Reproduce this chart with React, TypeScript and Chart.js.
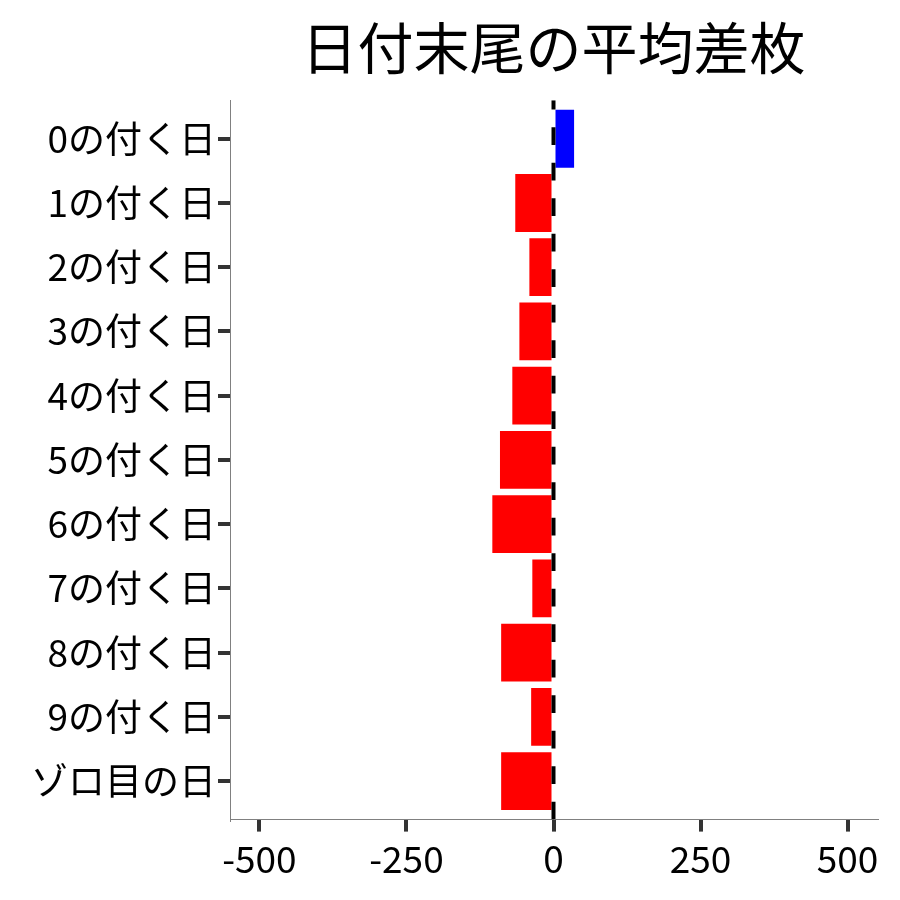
import { useEffect, useRef } from 'react'
import { Chart, registerables } from 'chart.js'

Chart.register(...registerables)

const TITLE = '日付末尾の平均差枚'
const LABELS = [
  '0の付く日', '1の付く日', '2の付く日', '3の付く日', '4の付く日', '5の付く日',
  '6の付く日', '7の付く日', '8の付く日', '9の付く日', 'ゾロ目の日',
]
const VALUES = [35, -65, -41, -58, -70, -91, -104, -36, -89, -38, -89]
const X_TICKS = [-500, -250, 0, 250, 500]

const FONT = '"Noto Sans CJK JP", "Noto Sans", sans-serif'

// dashed reference line at x = 0, drawn bottom-up like ggplot's geom_vline
const zeroLine = {
  id: 'zeroLine',
  afterDatasetsDraw(chart: any) {
    const { ctx, chartArea, scales } = chart
    const x = scales.x.getPixelForValue(0)
    ctx.save()
    ctx.beginPath()
    ctx.rect(chartArea.left, chartArea.top, chartArea.right - chartArea.left, chartArea.bottom - chartArea.top)
    ctx.clip()
    ctx.strokeStyle = '#000'
    ctx.lineWidth = 4
    ctx.setLineDash([17.75, 17.75])
    ctx.beginPath()
    ctx.moveTo(x, chartArea.bottom)
    ctx.lineTo(x, chartArea.top)
    ctx.stroke()
    ctx.restore()
  },
}

export default function App() {
  const canvasRef = useRef<HTMLCanvasElement>(null)

  useEffect(() => {
    if (!canvasRef.current) return
    const chart = new Chart(canvasRef.current, {
      type: 'bar',
      data: {
        labels: LABELS,
        datasets: [{
          data: VALUES,
          backgroundColor: VALUES.map(v => (v >= 0 ? '#0000ff' : '#ff0000')),
          borderWidth: 0,
          categoryPercentage: 0.9,
          barPercentage: 1,
        }],
      },
      options: {
        indexAxis: 'y',
        animation: false,
        responsive: true,
        maintainAspectRatio: false,
        layout: { padding: { left: 0, right: 23, top: 0, bottom: 14 } },
        plugins: {
          legend: { display: false },
          tooltip: { enabled: false },
          title: {
            display: true,
            text: TITLE,
            color: '#000',
            fullSize: false,
            font: { size: 56, family: FONT, weight: 'normal' },
            padding: { top: 14, bottom: 19 },
          },
        },
        scales: {
          x: {
            type: 'linear',
            min: -550,
            max: 550,
            afterBuildTicks: (s: any) => { s.ticks = X_TICKS.map(v => ({ value: v })) },
            grid: { drawOnChartArea: false, drawTicks: true, tickLength: 12, color: '#333', lineWidth: 4 },
            border: { display: true, color: '#808080', width: 1 },
            ticks: { color: '#000', font: { size: 37, family: FONT }, padding: 5, maxRotation: 0 },
          },
          y: {
            type: 'category',
            offset: true,
            // ggplot pads discrete axes by 0.6 of a category on each side
            afterBuildTicks: (s: any) => { s._startValue = -0.6; s._valueRange = LABELS.length + 0.2 },
            afterFit: (s: any) => { s.width = 230 },
            grid: { offset: false, drawOnChartArea: false, drawTicks: true, tickLength: 12, color: '#333', lineWidth: 4 },
            border: { display: true, color: '#808080', width: 1 },
            ticks: { color: '#000', font: { size: 37, family: FONT }, padding: 2 },
          },
        },
      },
      plugins: [zeroLine],
    })
    return () => { chart.destroy() }
  }, [])

  return (
    <div style={{ position: 'absolute', left: 0, top: 0, width: 900, height: 900, background: '#fff' }}>
      <canvas ref={canvasRef} />
    </div>
  )
}
